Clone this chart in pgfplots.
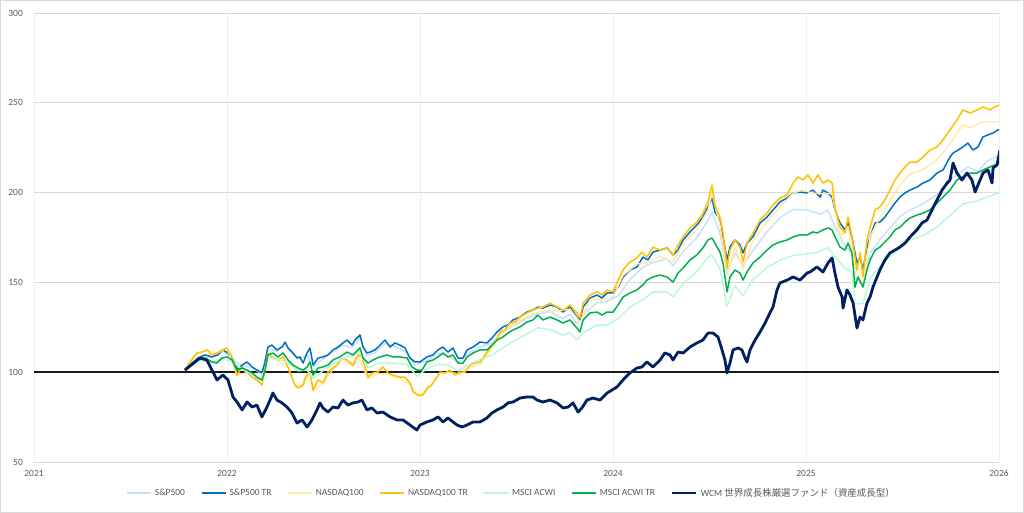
\documentclass[border=0pt]{standalone}
\usepackage{fontspec}
\setmainfont{Carlito}
\newfontfamily\cjk{Noto Sans CJK JP}
\usepackage{pgfplots}
\pgfplotsset{compat=1.18}
\definecolor{spx}{HTML}{C5E0F8}
\definecolor{spxtr}{HTML}{0070C0}
\definecolor{ndx}{HTML}{FFE8A8}
\definecolor{ndxtr}{HTML}{FFC000}
\definecolor{acwi}{HTML}{B8F8D8}
\definecolor{acwitr}{HTML}{00B050}
\definecolor{wcm}{HTML}{002060}
\definecolor{lbl}{HTML}{595959}
\begin{document}
\begin{tikzpicture}
\useasboundingbox (-34bp,-51bp) rectangle (990bp,462bp);
\draw[gray!30, line width=1bp] (-33.5bp,-50.5bp) rectangle (989.5bp,461.5bp);
\begin{axis}[
  at={(0,0)}, anchor=south west,
  scale only axis, width=965bp, height=449bp,
  xmin=2021, xmax=2026, ymin=50, ymax=300,
  xtick={2021,2022,2023,2024,2025,2026},
  xticklabels={2021,2022,2023,2024,2025,2026},
  ytick={50,100,150,200,250,300},
  yticklabels={50,100,150,200,250,300},
  major tick length=0pt,
  xmajorgrids, ymajorgrids,
  x grid style={draw=gray!12, line width=0.8bp},
  y grid style={draw=gray!30, line width=0.8bp},
  axis line style={draw=none},
  tick label style={font=\fontsize{9.5}{11}\selectfont, text=lbl},
  yticklabel style={anchor=east, inner sep=0pt, xshift=-11bp},
  xticklabel style={anchor=north, inner sep=0pt, yshift=-8bp},
  no markers,
  every axis plot/.append style={line join=round},
  legend columns=7,
  legend style={at={(0.495,-0.069)}, anchor=center, draw=none, fill=none,
    font=\fontsize{9.5}{11}\selectfont, text=lbl, inner sep=0pt,
    /tikz/every even column/.append style={column sep=14bp},
    /tikz/every odd column/.append style={column sep=1bp}},
  legend cell align=left,
  legend image code/.code={\draw[#1] (0bp,0bp) -- (24bp,0bp);},
]
\addplot[black!90, line width=1.6bp, forget plot] coordinates {(2021,100) (2026,100)};

% S&P500 (price)
\addplot[spx, line width=1.4bp] coordinates {
(2021.782,101.2)(2021.850,107.8)(2021.922,108.3)(2021.979,112.1)(2022.031,106.4)(2022.078,103.6)(2022.130,102.4)(2022.181,99.0)(2022.212,113.3)(2022.259,111.6)(2022.301,115.9)(2022.342,109.8)(2022.378,107.5)(2022.415,109.7)(2022.446,103.0)(2022.497,107.4)(2022.549,111.2)(2022.601,114.9)(2022.648,113.6)(2022.689,119.1)(2022.725,109.2)(2022.767,110.8)(2022.819,116.1)(2022.870,114.4)(2022.922,111.6)(2022.974,103.9)(2023.036,106.5)(2023.093,110.3)(2023.145,109.0)(2023.197,105.6)(2023.244,110.0)(2023.311,114.2)(2023.373,116.3)(2023.430,122.2)(2023.482,125.9)(2023.554,130.0)(2023.611,132.6)(2023.674,133.7)(2023.741,129.8)(2023.777,132.3)(2023.813,126.9)(2023.845,132.2)(2023.917,138.6)(2023.969,139.5)(2024.026,142.5)(2024.088,151.7)(2024.155,158.5)(2024.207,161.1)(2024.280,163.1)(2024.311,159.2)(2024.363,167.0)(2024.435,175.1)(2024.492,184.5)(2024.513,189.1)(2024.554,177.3)(2024.591,155.8)(2024.632,166.5)(2024.674,159.4)(2024.725,167.8)(2024.798,178.2)(2024.865,186.0)(2024.933,190.6)(2025.005,190.4)(2025.073,188.0)(2025.114,190.2)(2025.150,181.0)(2025.202,170.2)(2025.238,166.5)(2025.264,152.6)(2025.295,148.9)(2025.332,166.2)(2025.383,173.9)(2025.435,180.2)(2025.487,186.8)(2025.539,190.3)(2025.606,193.8)(2025.679,198.9)(2025.746,207.0)(2025.788,210.5)(2025.839,214.2)(2025.891,211.9)(2025.943,217.9)(2026.005,220.6)};
\addlegendentry{S\&P500}

% S&P500 TR
\addplot[spxtr, line width=1.5bp] coordinates {
(2021.782,101.2)(2021.819,105.1)(2021.850,107.9)(2021.886,109.6)(2021.922,108.5)(2021.953,109.6)(2021.979,112.4)(2022.005,110.7)(2022.031,106.8)(2022.057,101.2)(2022.078,104.0)(2022.104,105.7)(2022.130,102.9)(2022.155,101.2)(2022.181,99.6)(2022.197,105.7)(2022.212,114.0)(2022.233,115.1)(2022.259,112.4)(2022.285,114.0)(2022.301,116.8)(2022.316,113.5)(2022.342,110.7)(2022.363,107.9)(2022.378,108.5)(2022.394,105.1)(2022.415,110.7)(2022.430,113.5)(2022.446,104.0)(2022.472,107.9)(2022.497,108.5)(2022.523,109.6)(2022.549,112.4)(2022.575,114.0)(2022.601,116.3)(2022.622,117.9)(2022.648,115.1)(2022.663,117.9)(2022.689,120.7)(2022.705,114.0)(2022.725,110.7)(2022.741,111.2)(2022.767,112.4)(2022.793,115.1)(2022.819,117.9)(2022.845,114.0)(2022.870,116.3)(2022.896,115.1)(2022.922,113.5)(2022.948,107.9)(2022.974,105.7)(2023.000,105.7)(2023.036,108.5)(2023.067,109.6)(2023.093,112.4)(2023.119,114.0)(2023.145,111.2)(2023.171,113.5)(2023.197,107.9)(2023.223,107.9)(2023.244,112.4)(2023.275,114.0)(2023.311,116.8)(2023.347,116.3)(2023.373,119.0)(2023.399,122.4)(2023.430,125.2)(2023.456,126.3)(2023.482,129.1)(2023.518,130.7)(2023.554,133.5)(2023.585,134.6)(2023.611,136.3)(2023.637,135.7)(2023.674,137.4)(2023.710,136.3)(2023.741,133.5)(2023.777,136.3)(2023.813,130.7)(2023.829,129.1)(2023.845,136.3)(2023.881,141.3)(2023.917,143.0)(2023.943,141.3)(2023.969,144.1)(2024.000,144.1)(2024.026,147.4)(2024.052,153.0)(2024.088,156.9)(2024.124,158.6)(2024.155,164.1)(2024.181,162.5)(2024.207,166.9)(2024.244,168.0)(2024.280,169.2)(2024.311,165.3)(2024.337,168.0)(2024.363,173.6)(2024.399,178.1)(2024.435,182.0)(2024.466,186.4)(2024.492,192.0)(2024.513,197.0)(2024.528,189.2)(2024.554,184.7)(2024.570,175.3)(2024.591,162.5)(2024.606,169.7)(2024.632,173.6)(2024.658,170.8)(2024.674,166.4)(2024.694,171.9)(2024.725,175.3)(2024.762,183.1)(2024.798,186.4)(2024.829,190.3)(2024.865,194.8)(2024.902,197.0)(2024.933,199.8)(2024.969,200.3)(2025.005,199.8)(2025.036,201.4)(2025.073,197.5)(2025.088,201.4)(2025.114,199.8)(2025.135,197.5)(2025.150,190.3)(2025.176,183.1)(2025.202,179.2)(2025.218,183.1)(2025.238,175.3)(2025.264,160.8)(2025.280,164.1)(2025.295,156.9)(2025.316,169.7)(2025.332,175.3)(2025.358,183.1)(2025.383,183.6)(2025.409,186.4)(2025.435,190.3)(2025.461,194.2)(2025.487,197.5)(2025.513,199.8)(2025.539,201.4)(2025.575,203.1)(2025.606,205.3)(2025.642,207.0)(2025.679,210.9)(2025.710,212.6)(2025.746,219.8)(2025.762,222.0)(2025.788,223.7)(2025.813,225.4)(2025.839,227.6)(2025.865,223.7)(2025.891,225.4)(2025.917,231.0)(2025.943,232.1)(2025.969,233.2)(2025.995,234.9)(2026.005,234.9)};
\addlegendentry{S\&P500 TR}

% NASDAQ100 (price)
\addplot[ndx, line width=1.4bp] coordinates {
(2021.782,101.2)(2021.845,110.6)(2021.896,112.3)(2021.948,110.5)(2022.000,113.3)(2022.052,98.2)(2022.104,99.8)(2022.155,95.4)(2022.197,100.8)(2022.212,110.3)(2022.264,106.4)(2022.316,102.4)(2022.352,92.4)(2022.394,92.4)(2022.430,99.5)(2022.446,89.6)(2022.497,93.4)(2022.549,101.6)(2022.596,107.2)(2022.653,103.2)(2022.679,108.8)(2022.731,96.5)(2022.782,99.2)(2022.834,98.7)(2022.896,96.4)(2022.948,93.1)(2022.990,86.4)(2023.041,90.8)(2023.104,99.0)(2023.155,100.0)(2023.207,98.9)(2023.259,102.7)(2023.311,104.3)(2023.363,112.0)(2023.415,120.7)(2023.466,125.6)(2023.518,128.8)(2023.585,132.5)(2023.637,134.2)(2023.710,134.1)(2023.777,135.1)(2023.829,127.9)(2023.881,140.4)(2023.943,140.4)(2024.000,142.0)(2024.052,153.9)(2024.124,160.3)(2024.176,160.8)(2024.244,164.5)(2024.311,161.7)(2024.363,171.5)(2024.435,179.5)(2024.492,190.3)(2024.513,199.5)(2024.554,182.0)(2024.591,154.2)(2024.632,169.4)(2024.674,157.4)(2024.725,173.1)(2024.798,183.8)(2024.865,191.8)(2024.933,199.8)(2024.984,201.4)(2025.036,199.6)(2025.088,199.5)(2025.135,199.4)(2025.176,175.6)(2025.218,181.0)(2025.264,152.3)(2025.295,148.5)(2025.332,175.4)(2025.383,186.3)(2025.435,195.3)(2025.487,204.4)(2025.539,210.3)(2025.606,212.9)(2025.679,218.2)(2025.746,227.2)(2025.813,237.8)(2025.850,236.1)(2025.917,239.3)(2025.979,239.3)(2026.005,239.9)};
\addlegendentry{NASDAQ100}

% NASDAQ100 TR
\addplot[ndxtr, line width=1.5bp] coordinates {
(2021.782,101.2)(2021.808,105.7)(2021.845,110.7)(2021.870,111.2)(2021.896,112.4)(2021.922,109.6)(2021.948,110.7)(2021.974,112.4)(2022.000,113.5)(2022.026,108.5)(2022.052,98.4)(2022.078,102.9)(2022.104,100.1)(2022.130,97.3)(2022.155,95.7)(2022.181,92.9)(2022.197,101.2)(2022.212,110.7)(2022.238,107.9)(2022.264,106.8)(2022.290,108.5)(2022.316,102.9)(2022.337,96.8)(2022.352,92.9)(2022.368,91.2)(2022.394,92.9)(2022.404,96.8)(2022.430,100.1)(2022.446,90.1)(2022.472,95.7)(2022.497,94.0)(2022.523,100.1)(2022.549,102.3)(2022.570,104.0)(2022.596,107.9)(2022.622,106.8)(2022.653,104.0)(2022.679,109.6)(2022.699,108.5)(2022.715,102.9)(2022.731,97.3)(2022.756,99.6)(2022.782,100.1)(2022.808,102.9)(2022.834,99.6)(2022.860,98.4)(2022.896,97.3)(2022.922,97.3)(2022.948,94.0)(2022.964,89.0)(2022.990,87.3)(2023.016,87.3)(2023.041,91.8)(2023.052,91.8)(2023.078,95.7)(2023.104,100.1)(2023.130,99.6)(2023.155,101.2)(2023.181,98.4)(2023.207,100.1)(2023.233,100.1)(2023.259,104.0)(2023.285,105.1)(2023.311,105.7)(2023.337,109.6)(2023.363,113.5)(2023.389,116.8)(2023.415,122.4)(2023.440,123.5)(2023.466,127.4)(2023.492,127.9)(2023.518,130.7)(2023.554,133.0)(2023.585,134.6)(2023.611,135.7)(2023.637,136.3)(2023.674,138.5)(2023.710,136.3)(2023.741,134.6)(2023.777,137.4)(2023.813,133.0)(2023.829,130.2)(2023.845,138.5)(2023.881,143.0)(2023.917,144.7)(2023.943,143.0)(2023.969,145.8)(2024.000,144.7)(2024.026,151.3)(2024.052,156.9)(2024.088,161.4)(2024.124,163.6)(2024.150,166.9)(2024.176,164.1)(2024.207,169.7)(2024.244,168.0)(2024.280,169.2)(2024.311,165.3)(2024.337,170.8)(2024.363,175.3)(2024.399,180.3)(2024.435,183.6)(2024.466,188.6)(2024.492,194.8)(2024.513,204.2)(2024.528,193.1)(2024.554,186.4)(2024.570,178.1)(2024.591,158.0)(2024.606,168.0)(2024.632,173.6)(2024.658,169.7)(2024.674,161.4)(2024.694,171.9)(2024.725,177.5)(2024.762,184.7)(2024.798,188.6)(2024.829,193.1)(2024.865,197.0)(2024.902,198.7)(2024.933,205.3)(2024.959,208.7)(2024.984,207.0)(2025.010,209.8)(2025.036,205.3)(2025.062,209.8)(2025.088,205.3)(2025.114,207.0)(2025.135,205.3)(2025.150,192.0)(2025.176,180.8)(2025.202,177.5)(2025.218,186.4)(2025.238,175.3)(2025.264,156.9)(2025.280,166.4)(2025.295,153.0)(2025.316,173.6)(2025.332,180.8)(2025.358,190.3)(2025.383,192.0)(2025.409,195.9)(2025.435,201.4)(2025.461,207.0)(2025.487,210.9)(2025.513,214.3)(2025.539,217.0)(2025.575,217.0)(2025.606,219.8)(2025.642,223.7)(2025.679,225.4)(2025.710,229.3)(2025.746,234.9)(2025.782,240.4)(2025.813,246.0)(2025.850,244.3)(2025.886,246.0)(2025.917,247.7)(2025.953,246.0)(2025.979,247.7)(2026.005,248.8)};
\addlegendentry{NASDAQ100 TR}

% MSCI ACWI (price)
\addplot[acwi, line width=1.4bp] coordinates {
(2021.782,101.2)(2021.850,106.6)(2021.922,105.4)(2021.974,107.5)(2022.026,106.2)(2022.078,101.6)(2022.130,98.7)(2022.181,94.7)(2022.212,108.4)(2022.264,107.1)(2022.316,105.3)(2022.368,100.7)(2022.415,101.2)(2022.446,96.6)(2022.497,100.8)(2022.549,104.6)(2022.622,108.5)(2022.689,110.5)(2022.731,102.3)(2022.793,105.4)(2022.860,105.1)(2022.933,104.3)(2022.984,97.7)(2023.036,101.9)(2023.093,104.4)(2023.145,104.2)(2023.197,100.7)(2023.244,103.8)(2023.311,107.2)(2023.373,109.6)(2023.430,113.6)(2023.482,117.2)(2023.554,121.2)(2023.611,124.8)(2023.674,123.8)(2023.741,120.6)(2023.777,122.1)(2023.813,117.9)(2023.845,122.1)(2023.917,126.2)(2023.969,126.2)(2024.026,129.8)(2024.088,136.2)(2024.155,140.4)(2024.207,144.6)(2024.280,144.6)(2024.311,141.9)(2024.363,149.3)(2024.435,156.2)(2024.492,164.1)(2024.513,165.1)(2024.554,157.7)(2024.591,136.6)(2024.632,148.1)(2024.674,142.7)(2024.725,151.6)(2024.798,158.3)(2024.865,162.3)(2024.933,165.0)(2025.005,165.8)(2025.057,166.7)(2025.114,169.3)(2025.150,164.4)(2025.202,157.6)(2025.238,156.1)(2025.254,138.1)(2025.295,138.1)(2025.332,152.3)(2025.383,158.8)(2025.435,164.1)(2025.487,169.0)(2025.539,173.6)(2025.606,176.0)(2025.679,180.8)(2025.746,187.3)(2025.813,193.7)(2025.886,195.3)(2025.953,198.2)(2026.005,200.0)};
\addlegendentry{MSCI ACWI}

% MSCI ACWI TR
\addplot[acwitr, line width=1.5bp] coordinates {
(2021.782,101.2)(2021.819,105.1)(2021.850,106.8)(2021.886,107.9)(2021.922,105.7)(2021.948,105.1)(2021.974,107.9)(2022.000,108.5)(2022.026,106.8)(2022.052,101.2)(2022.078,102.3)(2022.104,101.2)(2022.130,99.6)(2022.155,97.3)(2022.181,95.7)(2022.197,101.2)(2022.212,109.6)(2022.238,110.7)(2022.264,108.5)(2022.290,110.7)(2022.316,106.8)(2022.342,104.0)(2022.368,102.3)(2022.394,101.2)(2022.415,102.9)(2022.430,105.7)(2022.446,98.4)(2022.472,102.3)(2022.497,102.9)(2022.523,104.0)(2022.549,106.8)(2022.585,108.5)(2022.622,111.2)(2022.653,109.6)(2022.689,113.5)(2022.705,107.9)(2022.731,105.1)(2022.756,106.8)(2022.793,108.5)(2022.829,109.6)(2022.860,108.5)(2022.896,108.5)(2022.933,107.9)(2022.959,102.9)(2022.984,101.2)(2023.010,101.2)(2023.036,105.7)(2023.067,106.8)(2023.093,108.5)(2023.119,110.7)(2023.145,108.5)(2023.171,109.6)(2023.197,105.1)(2023.223,105.1)(2023.244,108.5)(2023.275,110.7)(2023.311,112.4)(2023.347,112.4)(2023.373,115.1)(2023.399,117.9)(2023.430,119.6)(2023.456,121.8)(2023.482,123.5)(2023.518,125.2)(2023.554,127.9)(2023.585,129.1)(2023.611,131.8)(2023.637,129.1)(2023.674,130.7)(2023.710,129.1)(2023.741,127.4)(2023.777,129.1)(2023.813,124.6)(2023.829,122.4)(2023.845,129.1)(2023.881,133.0)(2023.917,133.5)(2023.943,131.8)(2023.969,133.5)(2024.000,133.5)(2024.026,137.4)(2024.052,141.9)(2024.088,144.1)(2024.124,145.8)(2024.155,148.6)(2024.176,151.3)(2024.207,153.0)(2024.244,154.1)(2024.280,153.0)(2024.311,150.2)(2024.337,155.2)(2024.363,158.0)(2024.399,162.5)(2024.435,165.3)(2024.466,169.2)(2024.492,173.6)(2024.513,174.7)(2024.528,171.9)(2024.554,166.9)(2024.570,160.8)(2024.591,144.7)(2024.606,153.0)(2024.632,156.9)(2024.658,155.2)(2024.674,151.3)(2024.694,155.8)(2024.725,160.8)(2024.762,164.1)(2024.798,168.0)(2024.829,170.8)(2024.865,172.5)(2024.902,173.6)(2024.933,175.3)(2024.969,176.4)(2025.005,176.4)(2025.036,178.1)(2025.057,177.5)(2025.088,179.2)(2025.114,180.3)(2025.135,179.2)(2025.150,175.3)(2025.176,169.7)(2025.202,168.0)(2025.218,171.9)(2025.238,166.4)(2025.254,147.4)(2025.269,153.0)(2025.295,147.4)(2025.316,156.9)(2025.332,162.5)(2025.358,168.0)(2025.383,169.7)(2025.409,172.5)(2025.435,175.3)(2025.461,179.2)(2025.487,180.8)(2025.513,183.6)(2025.539,185.9)(2025.575,187.5)(2025.606,188.6)(2025.642,190.3)(2025.679,194.2)(2025.710,197.5)(2025.746,201.4)(2025.782,207.0)(2025.813,208.7)(2025.850,210.9)(2025.886,210.9)(2025.917,212.6)(2025.953,214.3)(2025.979,215.4)(2026.005,216.5)};
\addlegendentry{MSCI ACWI TR}

% WCM
\addplot[wcm, line width=2.8bp] coordinates {
(2021.782,101.2)(2021.860,107.9)(2021.896,106.8)(2021.922,101.2)(2021.948,95.7)(2021.979,98.4)(2022.005,95.7)(2022.031,86.2)(2022.052,83.4)(2022.078,79.0)(2022.104,83.4)(2022.130,80.6)(2022.155,81.7)(2022.181,75.1)(2022.207,80.6)(2022.223,84.5)(2022.238,88.4)(2022.259,84.5)(2022.285,82.9)(2022.311,80.6)(2022.337,77.3)(2022.363,71.7)(2022.389,73.4)(2022.415,69.5)(2022.440,73.4)(2022.466,79.0)(2022.482,82.9)(2022.497,80.1)(2022.523,77.8)(2022.549,80.6)(2022.575,80.1)(2022.601,84.5)(2022.627,81.7)(2022.653,82.9)(2022.679,83.4)(2022.699,84.5)(2022.725,79.0)(2022.751,80.1)(2022.777,77.3)(2022.808,77.8)(2022.845,75.1)(2022.881,73.4)(2022.912,73.4)(2022.948,70.6)(2022.984,67.8)(2023.000,70.6)(2023.036,72.3)(2023.067,73.4)(2023.093,75.1)(2023.119,72.3)(2023.145,74.5)(2023.171,72.3)(2023.192,70.6)(2023.218,69.5)(2023.244,70.6)(2023.275,72.3)(2023.311,72.3)(2023.347,74.5)(2023.373,77.3)(2023.399,79.0)(2023.430,80.6)(2023.456,82.9)(2023.482,83.4)(2023.518,85.6)(2023.554,86.2)(2023.585,86.2)(2023.606,84.5)(2023.637,83.4)(2023.674,84.5)(2023.710,82.9)(2023.741,80.1)(2023.767,80.6)(2023.793,82.9)(2023.819,77.8)(2023.839,80.1)(2023.865,84.5)(2023.896,85.6)(2023.933,84.5)(2023.969,88.4)(2023.995,90.1)(2024.021,91.8)(2024.052,95.7)(2024.088,99.6)(2024.124,102.3)(2024.150,102.9)(2024.176,105.7)(2024.207,102.9)(2024.244,106.8)(2024.269,110.7)(2024.295,109.6)(2024.311,106.8)(2024.337,111.2)(2024.363,110.7)(2024.399,114.0)(2024.435,116.3)(2024.466,117.9)(2024.492,121.8)(2024.518,121.8)(2024.544,119.6)(2024.565,112.4)(2024.580,106.8)(2024.591,99.6)(2024.606,105.1)(2024.622,112.4)(2024.648,113.5)(2024.668,112.4)(2024.684,107.9)(2024.694,105.7)(2024.710,112.4)(2024.736,117.9)(2024.762,122.4)(2024.788,127.4)(2024.813,133.0)(2024.829,136.3)(2024.850,145.8)(2024.865,149.7)(2024.902,151.3)(2024.933,153.0)(2024.969,151.3)(2025.005,155.2)(2025.021,155.8)(2025.057,158.6)(2025.088,155.8)(2025.114,160.8)(2025.135,163.6)(2025.150,155.2)(2025.166,147.4)(2025.187,141.9)(2025.192,135.7)(2025.212,145.8)(2025.228,143.0)(2025.244,138.5)(2025.264,124.6)(2025.280,130.7)(2025.295,129.1)(2025.316,138.5)(2025.332,141.9)(2025.347,147.4)(2025.368,153.0)(2025.383,156.9)(2025.409,162.5)(2025.435,166.4)(2025.461,168.0)(2025.487,169.7)(2025.513,171.9)(2025.539,175.3)(2025.575,179.2)(2025.601,183.1)(2025.627,184.7)(2025.653,190.3)(2025.679,195.9)(2025.705,201.4)(2025.731,205.3)(2025.746,207.0)(2025.762,216.5)(2025.782,210.9)(2025.808,207.0)(2025.834,210.9)(2025.860,207.0)(2025.876,200.3)(2025.891,204.2)(2025.917,210.9)(2025.943,212.6)(2025.964,205.3)(2025.969,213.7)(2025.990,215.4)(2026.005,223.7)};
\addlegendentry{WCM {\cjk 世界成長株厳選ファンド（資産成長型）}}
\end{axis}
\end{tikzpicture}
\end{document}
